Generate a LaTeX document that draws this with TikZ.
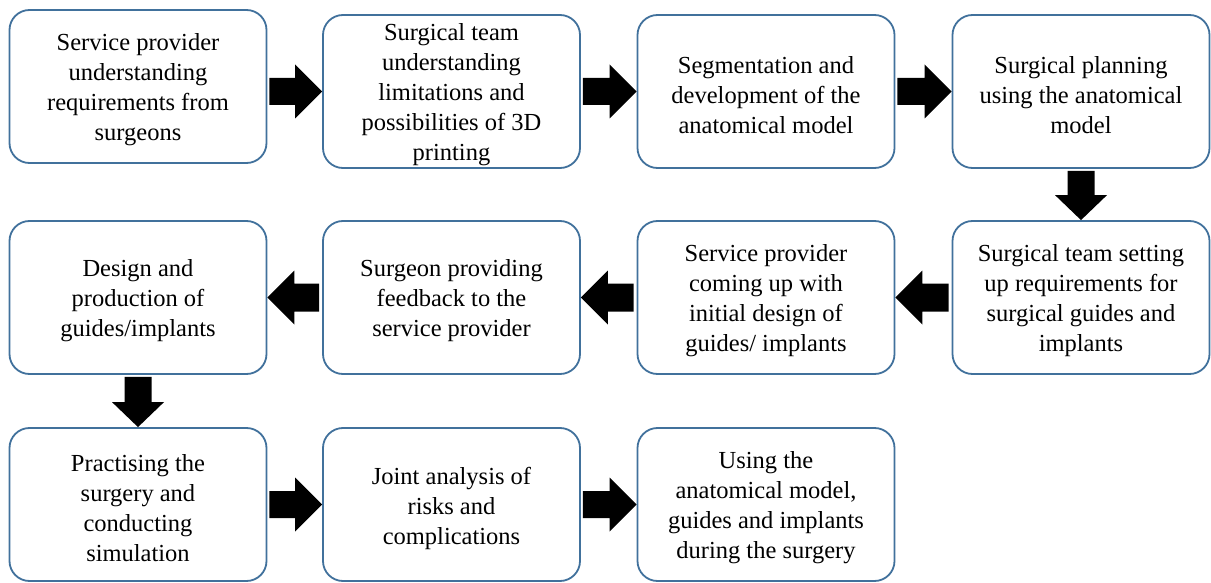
\documentclass[tikz,border=0pt]{standalone}
\usepackage{fontspec}
\setmainfont{Liberation Serif}
\usetikzlibrary{calc}
\definecolor{boxblue}{HTML}{41719C}
\tikzset{
  box/.style={draw=boxblue, line width=1.8pt, rounded corners=20pt,
    minimum width=257pt, minimum height=153pt, inner sep=0pt, fill=white},
  txt/.style={align=center, inner sep=0pt, yshift=-3.5pt,
    font=\fontsize{24.5}{30}\selectfont},
  blk/.style={fill=black}
}
\newcommand\arrR[2]{\fill[blk] let \p1=(#1.east), \p2=(#2.west) in
  (\x1+2pt,\y2+13.5pt) -- (\x2-27pt,\y2+13.5pt) -- (\x2-27pt,\y2+27pt) -- (\x2,\y2)
  -- (\x2-27pt,\y2-27pt) -- (\x2-27pt,\y2-13.5pt) -- (\x1+2pt,\y2-13.5pt) -- cycle;}
\newcommand\arrL[2]{\fill[blk] let \p1=(#1.west), \p2=(#2.east) in
  (\x1-3pt,\y1+14pt) -- (\x2+27pt,\y1+14pt) -- (\x2+27pt,\y1+27pt) -- (\x2,\y1)
  -- (\x2+27pt,\y1-27pt) -- (\x2+27pt,\y1-14pt) -- (\x1-3pt,\y1-14pt) -- cycle;}
\newcommand\arrD[2]{\fill[blk] let \p1=(#1.south), \p2=(#2.north) in
  (\x2-13.5pt,\y1-2pt) -- (\x2-13.5pt,\y2+25pt) -- (\x2-26pt,\y2+25pt) -- (\x2,\y2)
  -- (\x2+26pt,\y2+25pt) -- (\x2+13.5pt,\y2+25pt) -- (\x2+13.5pt,\y1-2pt) -- cycle;}
\begin{document}
\begin{tikzpicture}[x=1pt,y=-1pt]
\useasboundingbox (0,0) rectangle (1211,583);
% row 1
\node[box, label={[txt]center:{Service provider\\understanding\\requirements from\\surgeons}}] (b1) at (138,86.5) {};
\node[box, label={[txt]center:{Surgical team\\understanding\\limitations and\\possibilities of 3D\\printing}}] (b2) at (451.5,91.5) {};
\node[box, label={[txt]center:{Segmentation and\\development of the\\anatomical model}}] (b3) at (766,91.5) {};
\node[box, label={[txt]center:{Surgical planning\\using the anatomical\\model}}] (b4) at (1081,91.5) {};
% row 2
\node[box, label={[txt]center:{Surgical team setting\\up requirements for\\surgical guides and\\implants}}] (b5) at (1081,297.5) {};
\node[box, label={[txt]center:{Service provider\\coming up with\\initial design of\\guides/ implants}}] (b6) at (766,297.5) {};
\node[box, label={[txt]center:{Surgeon providing\\feedback to the\\service provider}}] (b7) at (451.5,297.5) {};
\node[box, label={[txt]center:{Design and\\production of\\guides/implants}}] (b8) at (138,297.5) {};
% row 3
\node[box, label={[txt]center:{Practising the\\surgery and\\conducting\\simulation}}] (b9) at (138,504.5) {};
\node[box, label={[txt]center:{Joint analysis of\\risks and\\complications}}] (b10) at (451.5,504.5) {};
\node[box, label={[txt]center:{Using the\\anatomical model,\\guides and implants\\during the surgery}}] (b11) at (766,504.5) {};
% arrows
\arrR{b1}{b2}
\arrR{b2}{b3}
\arrR{b3}{b4}
\arrD{b4}{b5}
\arrL{b5}{b6}
\arrL{b6}{b7}
\arrL{b7}{b8}
\arrD{b8}{b9}
\arrR{b9}{b10}
\arrR{b10}{b11}
\end{tikzpicture}
\end{document}
